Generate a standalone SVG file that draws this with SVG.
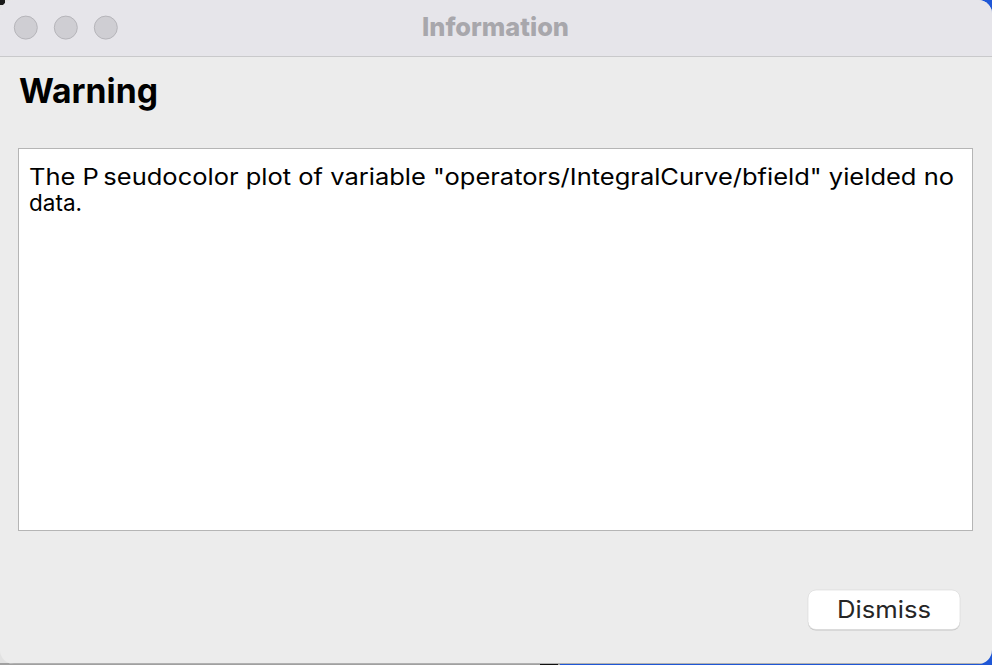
<svg xmlns="http://www.w3.org/2000/svg" width="992" height="665" viewBox="0 0 992 665">
  <style>
    .ui { font-family: Inter, "Liberation Sans", Arial, sans-serif; }
    .light { fill: #cfced3; stroke: #b6b5ba; stroke-width: 1; }
  </style>
  <defs>
    <clipPath id="win">
      <rect x="0" y="0" width="992" height="664" rx="14" ry="14"/>
    </clipPath>
  </defs>
  <g id="desktop">
    <rect x="0" y="0" width="992" height="665" fill="#e2e2e2"/>
    <rect x="900" y="0" width="92" height="40" fill="#1f57d6"/>
    <rect x="900" y="620" width="92" height="45" fill="#1f57d6"/>
    <rect x="560" y="663" width="432" height="2" fill="#1f57d6"/>
    <rect x="0" y="0" width="5" height="5" fill="#1a1a1a"/>
    <rect x="0" y="663" width="560" height="2" fill="#a0a0a0"/>
    <rect x="540" y="663" width="18" height="2" fill="#111"/>
  </g>
  <g id="window" clip-path="url(#win)">
    <rect x="0" y="0" width="992" height="664" fill="#ececec"/>
    <rect x="0" y="0" width="992" height="56" fill="#e6e5ea"/>
    <line x1="0" y1="56.5" x2="992" y2="56.5" stroke="#c9c9cb" stroke-width="1"/>
    <line x1="0" y1="663.5" x2="992" y2="663.5" stroke="#b0b0b0" stroke-width="1"/>
  </g>
  <g id="traffic-lights">
    <circle class="light" cx="25.8" cy="27.6" r="11.5"/>
    <circle class="light" cx="65.8" cy="27.6" r="11.5"/>
    <circle class="light" cx="105.8" cy="27.6" r="11.5"/>
  </g>
  <g id="title">
    <text class="ui" x="495.5" y="35.5" text-anchor="middle" font-size="26" font-weight="800" fill="#a8a7ac" textLength="147" lengthAdjust="spacingAndGlyphs">Information</text>
  </g>
  <g id="heading">
    <text class="ui" x="19" y="103" font-size="34" font-weight="700" fill="#000" textLength="139" lengthAdjust="spacingAndGlyphs">Warning</text>
  </g>
  <g id="message-box">
    <rect x="18.5" y="148.5" width="954" height="382" fill="#ffffff" stroke="#b5b5b5" stroke-width="1"/>
    <text class="ui" x="29" y="184.5" font-size="22.5" fill="#000" textLength="925" lengthAdjust="spacingAndGlyphs">The P<tspan dx="4">seudocolor plot of variable "operators/IntegralCurve/bfield" yielded no</tspan></text>
    <text class="ui" x="29" y="211" font-size="22.5" fill="#000">data.</text>
  </g>
  <g id="dismiss-button">
    <rect x="808" y="590.5" width="152" height="40" rx="8" ry="8" fill="#c4c4c4"/>
    <rect x="808" y="590" width="152" height="39.5" rx="8" ry="8" fill="#ffffff" stroke="#d6d6d6" stroke-width="0.6"/>
    <text class="ui" x="884" y="617.5" text-anchor="middle" font-size="24" fill="#262626" textLength="94" lengthAdjust="spacingAndGlyphs">Dismiss</text>
  </g>
  <g id="connectors"/>
</svg>
